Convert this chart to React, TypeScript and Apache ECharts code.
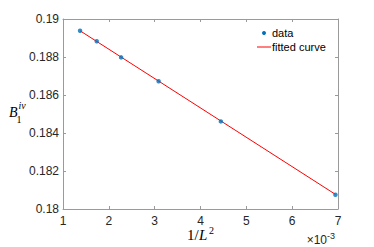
import React, { useEffect, useRef } from "react";
import * as echarts from "echarts";

// x values are in units of 1e-3 (1/L^2)
const dataX = [1.372, 1.736, 2.268, 3.086, 4.444, 6.944];
const dataY = [0.18938, 0.18883, 0.18798, 0.18672, 0.18461, 0.18075];
const fitX = [1.372, 6.944];
const fitY = [0.18938, 0.18077];
const legendLabels = ["data", "fitted curve"];

const AXIS = "#9a9a9a";
const TXT = "#262626";
const SANS = "'Liberation Sans', Arial, Helvetica, sans-serif";
const SERIF = "'Liberation Serif', 'Times New Roman', serif";

export default function App() {
  const ref = useRef<HTMLDivElement>(null);
  useEffect(() => {
    if (!ref.current) return;
    const chart = echarts.init(ref.current, undefined, { renderer: "svg" });
    const baseX = {
      type: "value" as const,
      min: 1,
      max: 7,
      interval: 1,
      splitLine: { show: false },
      axisLine: { show: true, lineStyle: { color: AXIS, width: 1 } },
      axisTick: { show: true, inside: true, length: 3, lineStyle: { color: AXIS } },
    };
    const baseY = {
      type: "value" as const,
      min: 0.18,
      max: 0.19,
      interval: 0.002,
      splitLine: { show: false },
      axisLine: { show: true, lineStyle: { color: AXIS, width: 1 } },
      axisTick: { show: true, inside: true, length: 3, lineStyle: { color: AXIS } },
    };
    chart.setOption({
      animation: false,
      backgroundColor: "#ffffff",
      grid: { left: 63, right: 36, top: 19, bottom: 38, containLabel: false },
      xAxis: [
        {
          ...baseX,
          position: "bottom",
          axisLabel: { color: TXT, fontSize: 12, fontFamily: SANS, margin: 6 },
        },
        { ...baseX, position: "top", axisLabel: { show: false } },
      ],
      yAxis: [
        {
          ...baseY,
          position: "left",
          axisLabel: {
            color: TXT,
            fontSize: 12,
            fontFamily: SANS,
            margin: 4,
            formatter: (v: number) => String(+v.toFixed(3)),
          },
        },
        { ...baseY, position: "right", axisLabel: { show: false } },
      ],
      series: [
        {
          name: legendLabels[1],
          type: "line",
          xAxisIndex: 0,
          yAxisIndex: 0,
          data: fitX.map((x, i) => [x, fitY[i]]),
          showSymbol: false,
          lineStyle: { color: "#ff0000", width: 1 },
          z: 2,
        },
        {
          name: legendLabels[0],
          type: "scatter",
          xAxisIndex: 0,
          yAxisIndex: 0,
          data: dataX.map((x, i) => [x, dataY[i]]),
          symbol: "circle",
          symbolSize: 4.5,
          itemStyle: { color: "#0072BD" },
          z: 3,
        },
      ],
      graphic: [
        // legend
        { type: "circle", shape: { cx: 264, cy: 33, r: 2 }, style: { fill: "#0072BD" } },
        {
          type: "text",
          x: 272,
          y: 33,
          style: { text: legendLabels[0], font: `11px ${SANS}`, fill: "#000", textVerticalAlign: "middle", verticalAlign: "middle" },
        },
        { type: "line", shape: { x1: 257, y1: 47, x2: 271, y2: 47 }, style: { stroke: "#ff0000", lineWidth: 1 } },
        {
          type: "text",
          x: 272,
          y: 47,
          style: { text: legendLabels[1], font: `11px ${SANS}`, fill: "#000", textVerticalAlign: "middle", verticalAlign: "middle" },
        },
        // y label B_1^{iv}
        {
          type: "text",
          x: 9,
          y: 119,
          style: { text: "B", font: `italic 14px ${SERIF}`, fill: "#000", textVerticalAlign: "bottom", verticalAlign: "bottom" },
        },
        {
          type: "text",
          x: 16.5,
          y: 124,
          style: { text: "1", font: `10px ${SERIF}`, fill: "#000", textVerticalAlign: "bottom", verticalAlign: "bottom" },
        },
        {
          type: "text",
          x: 18.5,
          y: 110,
          style: { text: "iv", font: `italic 10px ${SERIF}`, fill: "#000", textVerticalAlign: "bottom", verticalAlign: "bottom" },
        },
        // x label 1/L^2
        {
          type: "text",
          x: 187,
          y: 242,
          style: { text: "1/", font: `15px ${SERIF}`, fill: "#000", textVerticalAlign: "bottom", verticalAlign: "bottom" },
        },
        {
          type: "text",
          x: 199,
          y: 242,
          style: { text: "L", font: `italic 15px ${SERIF}`, fill: "#000", textVerticalAlign: "bottom", verticalAlign: "bottom" },
        },
        {
          type: "text",
          x: 209,
          y: 235,
          style: { text: "2", font: `10px ${SERIF}`, fill: "#000", textVerticalAlign: "bottom", verticalAlign: "bottom" },
        },
        // exponent x10^-3
        {
          type: "text",
          x: 327,
          y: 246,
          style: { text: "×10", font: `12px ${SANS}`, fill: TXT, textAlign: "right", align: "right", textVerticalAlign: "bottom", verticalAlign: "bottom" },
        },
        {
          type: "text",
          x: 327,
          y: 240,
          style: { text: "-3", font: `9px ${SANS}`, fill: TXT, textVerticalAlign: "bottom", verticalAlign: "bottom" },
        },
      ],
    });
    return () => chart.dispose();
  }, []);
  return (
    <div
      ref={ref}
      style={{ position: "fixed", left: 0, top: 0, width: 374, height: 247, background: "#fff" }}
    />
  );
}
